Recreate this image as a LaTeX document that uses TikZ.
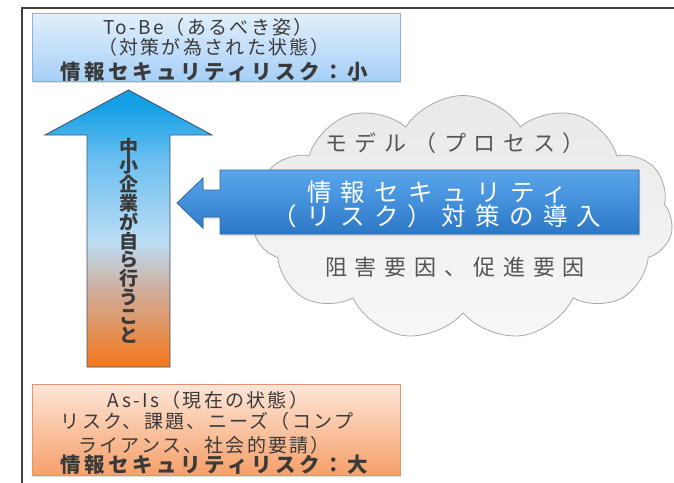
\documentclass[tikz,border=0pt]{standalone}
\usepackage{fontspec}
\setmainfont{Noto Sans CJK JP}
\usetikzlibrary{shapes.symbols,shadows}
\definecolor{txtgray}{HTML}{3A3A3A}
\definecolor{cloudtxt}{HTML}{555555}
\definecolor{framecol}{HTML}{404040}
\definecolor{tobeTop}{HTML}{E2EFFC}
\definecolor{tobeBot}{HTML}{A6CFF6}
\definecolor{tobeLine}{HTML}{86B2E0}
\definecolor{asisTop}{HTML}{FDE6D8}
\definecolor{asisBot}{HTML}{F6A06A}
\definecolor{asisLine}{HTML}{E3946A}
\definecolor{cloudTop}{HTML}{E9E9E9}
\definecolor{cloudBot}{HTML}{F7F7F7}
\definecolor{cloudLine}{HTML}{A8A8A8}
\definecolor{arrCyan}{HTML}{15A0E6}
\definecolor{arrBlueMid}{HTML}{6EC0F0}
\definecolor{arrPale}{HTML}{BCDDF4}
\definecolor{arrMauve}{HTML}{CFAE9C}
\definecolor{arrOrange}{HTML}{F5781C}
\definecolor{arrLine}{HTML}{3F5670}
\definecolor{leftTop}{HTML}{5AA6EC}
\definecolor{leftBot}{HTML}{2D78C6}
\definecolor{leftLine}{HTML}{2A68A6}
\pgfdeclareverticalshading{uparrowshade}{100bp}{color(0bp)=(arrOrange); color(25bp)=(arrOrange); color(39bp)=(arrMauve); color(47.5bp)=(arrPale); color(62bp)=(arrBlueMid); color(72bp)=(arrCyan); color(100bp)=(arrCyan)}
\tikzset{
  framestyle/.style={draw=framecol, line width=2pt},
  softshadow/.style={drop shadow={opacity=0.25, shadow xshift=1pt, shadow yshift=-2pt}},
  tobebox/.style={rectangle, draw=tobeLine, line width=0.8pt, top color=tobeTop, bottom color=tobeBot, minimum width=368pt, minimum height=68pt, inner sep=0pt, softshadow},
  asisbox/.style={rectangle, draw=asisLine, line width=0.8pt, top color=asisTop, bottom color=asisBot, minimum width=368pt, minimum height=91pt, inner sep=0pt, softshadow},
  cloudstyle/.style={cloud, cloud puffs=11, cloud puff arc=115, aspect=1.7, draw=cloudLine, line width=0.8pt, top color=cloudTop, bottom color=cloudBot, minimum width=420pt, minimum height=245pt, inner sep=0pt},
  uparrowstyle/.style={shading=uparrowshade, draw=arrLine, line width=0.9pt},
  leftarrowstyle/.style={top color=leftTop, bottom color=leftBot, draw=leftLine, line width=0.8pt, softshadow},
  boxtxt/.style={inner sep=0pt, text=txtgray, font=\fontsize{19}{20}\selectfont\addfontfeatures{LetterSpace=12}},
  boldtxt/.style={inner sep=0pt, text=txtgray, font=\fontsize{20.5}{22}\selectfont\bfseries\addfontfeatures{LetterSpace=17}},
  cloudtext/.style={inner sep=0pt, text=cloudtxt, font=\fontsize{22}{24}\selectfont\addfontfeatures{LetterSpace=35}},
  whitetxt/.style={inner sep=0pt, text=white, font=\fontsize{24.5}{24}\selectfont\addfontfeatures{LetterSpace=38}},
  verttxt/.style={inner sep=0pt, text=txtgray, align=center, font=\fontsize{19}{18.8}\selectfont\bfseries}
}
\begin{document}
\begin{tikzpicture}[x=1pt,y=-1pt]
\useasboundingbox (0,0) rectangle (674,482);
% frame
\coordinate (fTL) at (22,8);
\coordinate (fTR) at (674,8);
\coordinate (fBL) at (22,483);
\draw[framestyle] (fTR) -- (fTL) -- (fBL);
% cloud
\node[cloudstyle] (cloud) at (463,218) {};
% boxes
\node[tobebox] (tobe) at (216,47) {};
\node[asisbox] (asis) at (216,429.5) {};
% up arrow
\path[uparrowstyle] (128.5,90) -- (212,135) -- (170,135) -- (170,367) -- (87,367) -- (87,135) -- (45,135) -- cycle;
% left arrow
\path[leftarrowstyle] (177,203) -- (203,178) -- (203,190) -- (220,190) -- (220,170) -- (639,170) -- (639,234) -- (220,234) -- (220,217) -- (203,217) -- (203,228) -- cycle;
% texts top box
\node[boxtxt] (t1) at (208,27) {To-Be（あるべき姿）};
\node[boxtxt] (t2) at (214,47) {（対策が為された状態）};
\node[boldtxt] (t3) at (214,72) {情報セキュリティリスク：小};
% texts bottom box
\node[boxtxt] (b1) at (208,400) {As-Is（現在の状態）};
\node[boxtxt] (b2) at (207,421.5) {リスク、課題、ニーズ（コンプ};
\node[boxtxt] (b3) at (204,445) {ライアンス、社会的要請）};
\node[boldtxt] (b4) at (214,465) {情報セキュリティリスク：大};
% cloud texts
\node[cloudtext] (c1) at (455,143) {モデル（プロセス）};
\node[cloudtext] (c2) at (455,267) {阻害要因、促進要因};
% arrow texts
\node[whitetxt] (w1) at (437,192) {情報セキュリティ};
\node[whitetxt] (w2) at (437,216) {（リスク）対策の導入};
% vertical text
\node[verttxt] (vt) at (128.5,240.5) {中\\小\\企\\業\\が\\自\\ら\\行\\う\\こ\\と};
\end{tikzpicture}
\end{document}
